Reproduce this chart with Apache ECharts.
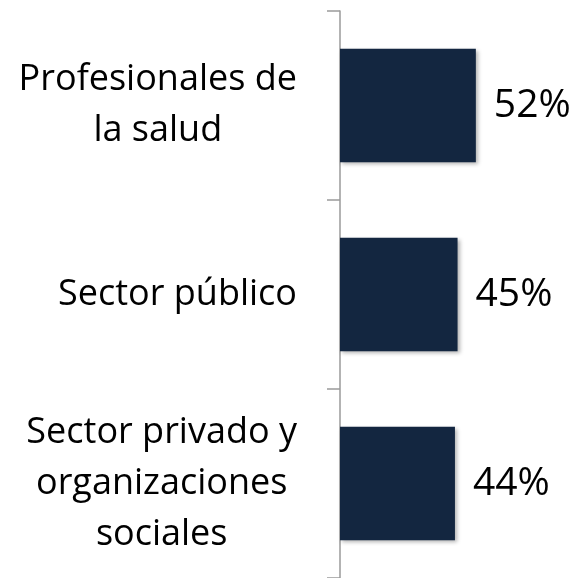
<!DOCTYPE html>
<html>
<head>
<meta charset="utf-8">
<script src="https://cdn.jsdelivr.net/npm/echarts@6/dist/echarts.min.js"></script>
<style>html,body{margin:0;padding:0;background:#fff}#c{width:580px;height:578px}</style>
</head>
<body>
<div id="c"></div>
<script>
const categories = ['Profesionales de\nla salud', 'Sector público', 'Sector privado y\norganizaciones\nsociales'];
const values = [52, 45, 44];
const valueSuffix = '%';

const chart = echarts.init(document.getElementById('c'), null, {renderer: 'canvas'});
chart.setOption({
  animation: false,
  backgroundColor: '#ffffff',
  grid: {left: 340, top: 11, width: 209, height: 570, containLabel: false},
  xAxis: {type: 'value', min: 0, max: 80, show: false},
  yAxis: {
    type: 'category',
    inverse: true,
    data: categories,
    axisLine: {show: true, lineStyle: {color: '#9a9a9a', width: 1.5}},
    axisTick: {show: true, length: 13, lineStyle: {color: '#9a9a9a', width: 1.5}},
    axisLabel: {
      margin: 43,
      formatter: function (v) {
        return v.split('\n').map(function (l) { return '{c|' + l + '}'; }).join('\n');
      },
      rich: {
        c: {align: 'center', fontFamily: 'Open Sans', fontSize: 36, lineHeight: 51, color: '#000000'}
      }
    },
    splitLine: {show: false}
  },
  series: [{
    type: 'bar',
    data: values,
    barCategoryGap: '40%',
    itemStyle: {
      color: '#132640',
      shadowColor: 'rgba(0,0,0,0.3)',
      shadowBlur: 4,
      shadowOffsetX: 2,
      shadowOffsetY: 2
    },
    label: {
      show: true,
      position: 'right',
      distance: 18,
      formatter: function (p) { return p.value + valueSuffix; },
      fontFamily: 'Open Sans',
      fontSize: 39,
      color: '#000000'
    }
  }]
});
</script>
</body>
</html>
